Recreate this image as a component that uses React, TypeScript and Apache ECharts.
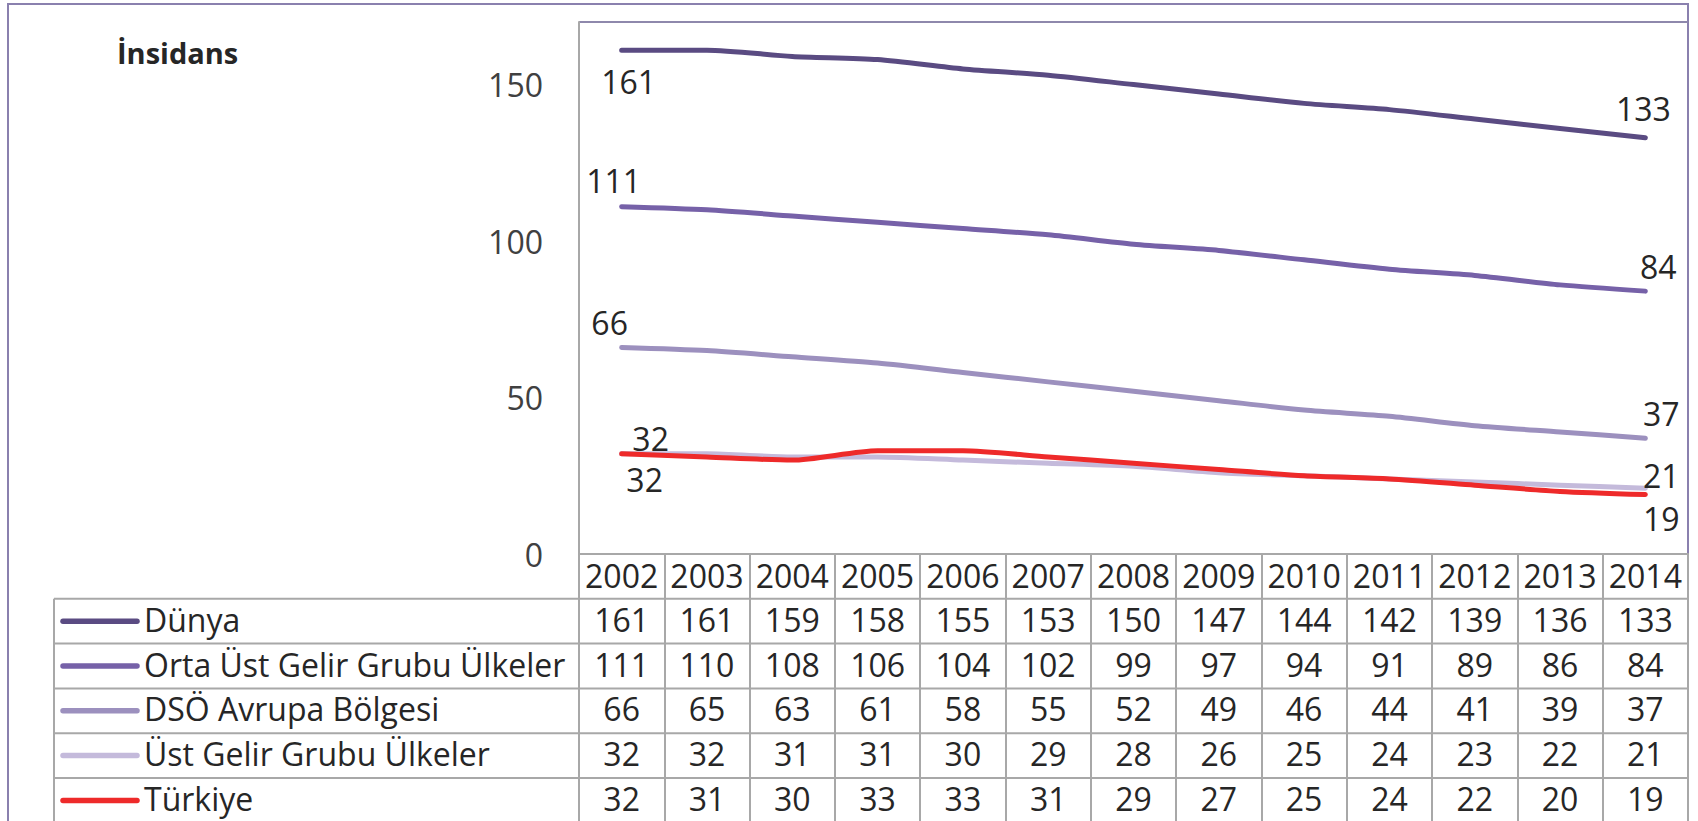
import React, { useEffect, useRef } from "react";
import * as echarts from "echarts";

// ---- data ----
const years = ["2002", "2003", "2004", "2005", "2006", "2007", "2008", "2009", "2010", "2011", "2012", "2013", "2014"];
const seriesNames = ["Dünya", "Orta Üst Gelir Grubu Ülkeler", "DSÖ Avrupa Bölgesi", "Üst Gelir Grubu Ülkeler", "Türkiye"];
const dunya = [161, 161, 159, 158, 155, 153, 150, 147, 144, 142, 139, 136, 133];
const ortaUst = [111, 110, 108, 106, 104, 102, 99, 97, 94, 91, 89, 86, 84];
const dsoAvrupa = [66, 65, 63, 61, 58, 55, 52, 49, 46, 44, 41, 39, 37];
const ustGelir = [32, 32, 31, 31, 30, 29, 28, 26, 25, 24, 23, 22, 21];
const turkiye = [32, 31, 30, 33, 33, 31, 29, 27, 25, 24, 22, 20, 19];
const yTitle = "İnsidans";

// ---- styling / layout ----
const FONT = "Open Sans";
const FS = 32;
const TEXT = "#262626";
const GRAY = "#A8A8A8";
const colors = ["#5A4B82", "#7661A8", "#9C90BE", "#C4BADB", "#EE2A2A"];
// label offsets [dx, dy] for first and last points
const labelOffsets = [
  [[7, 31], [-2, -29]],
  [[-8, -26], [13, -25]],
  [[-12, -25], [16, -25]],
  [[29, -15], [16, -13]],
  [[23, 26], [16, 24]],
];
const W = 1698, H = 821;
const PL = 579, PR = 1688, PT = 22, PB = 554;
const ROW_H = 44.8;
const TABLE_L = 54;

export default function App() {
  const ref = useRef<HTMLDivElement>(null);
  useEffect(() => {
    if (!ref.current) return;
    const chart = echarts.init(ref.current, null, { renderer: "svg" });
    const allData = [dunya, ortaUst, dsoAvrupa, ustGelir, turkiye];
    const colW = (PR - PL) / years.length;
    const headerBottom = PB + ROW_H;

    const graphic: any[] = [];
    // outer border
    graphic.push({ type: "rect", shape: { x: 8, y: 4, width: PR - 8, height: 900 }, style: { fill: "none", stroke: "#8A80AE", lineWidth: 2 }, silent: true });
    // plot top border
    graphic.push({ type: "line", shape: { x1: PL, y1: PT, x2: PR, y2: PT }, style: { stroke: "#8E88AC", lineWidth: 2 }, silent: true });
    // y title
    graphic.push({ type: "text", x: 117, y: 52, style: { text: yTitle, fontFamily: FONT, fontSize: 29, fontWeight: "bold", fill: TEXT, align: "left", verticalAlign: "middle" } });
    // table row lines
    for (let k = 0; k <= allData.length; k++) {
      const y = headerBottom + k * ROW_H;
      graphic.push({ type: "line", shape: { x1: TABLE_L, y1: y, x2: PR, y2: y }, style: { stroke: GRAY, lineWidth: 2 }, silent: true });
    }
    graphic.push({ type: "line", shape: { x1: TABLE_L, y1: headerBottom, x2: TABLE_L, y2: H + 10 }, style: { stroke: GRAY, lineWidth: 2 }, silent: true });
    // table rows
    allData.forEach((arr, r) => {
      const cy = headerBottom + (r + 0.5) * ROW_H;
      const ty = cy - 2;
      graphic.push({ type: "line", shape: { x1: 63, y1: cy, x2: 137, y2: cy }, style: { stroke: colors[r], lineWidth: 5.5, lineCap: "round" }, silent: true });
      graphic.push({ type: "text", x: 144, y: ty, style: { text: seriesNames[r], fontFamily: FONT, fontSize: FS, fill: TEXT, align: "left", verticalAlign: "middle" } });
      arr.forEach((v, i) => {
        graphic.push({ type: "text", x: PL + (i + 0.5) * colW, y: ty, style: { text: String(v), fontFamily: FONT, fontSize: FS, fill: TEXT, align: "center", verticalAlign: "middle" } });
      });
    });

    const series = allData.map((arr, s) => ({
      name: seriesNames[s],
      type: "line",
      smooth: 0.25,
      symbol: "circle",
      symbolSize: 0.1,
      showSymbol: true,
      lineStyle: { color: colors[s], width: 5, cap: "round" },
      itemStyle: { color: colors[s] },
      z: 2 + s,
      data: arr.map((v, i) => {
        if (i === 0 || i === arr.length - 1) {
          const off = labelOffsets[s][i === 0 ? 0 : 1];
          return {
            value: v,
            label: { show: true, position: "inside", offset: off, formatter: "{c}", fontFamily: FONT, fontSize: FS, color: TEXT },
          };
        }
        return { value: v };
      }),
    }));

    chart.setOption({
      animation: false,
      grid: { left: PL, top: PT, width: PR - PL, height: PB - PT, containLabel: false },
      xAxis: {
        type: "category",
        data: years,
        boundaryGap: true,
        axisLine: { lineStyle: { color: GRAY, width: 2 } },
        axisTick: { show: true, length: 300, lineStyle: { color: GRAY, width: 2 } },
        axisLabel: { fontFamily: FONT, fontSize: FS, color: TEXT, margin: 21, verticalAlign: "middle", interval: 0 },
        splitLine: { show: false },
      },
      yAxis: {
        type: "value",
        min: 0,
        max: 170,
        interval: 50,
        axisLine: { show: true, lineStyle: { color: GRAY, width: 2 } },
        axisTick: { show: false },
        splitLine: { show: false },
        axisLabel: { fontFamily: FONT, fontSize: FS, color: "#404040", margin: 36, showMaxLabel: false },
      },
      series,
      graphic,
    });
    return () => chart.dispose();
  }, []);
  return <div ref={ref} style={{ position: "fixed", left: 0, top: 0, width: W, height: H, background: "#fff" }} />;
}
